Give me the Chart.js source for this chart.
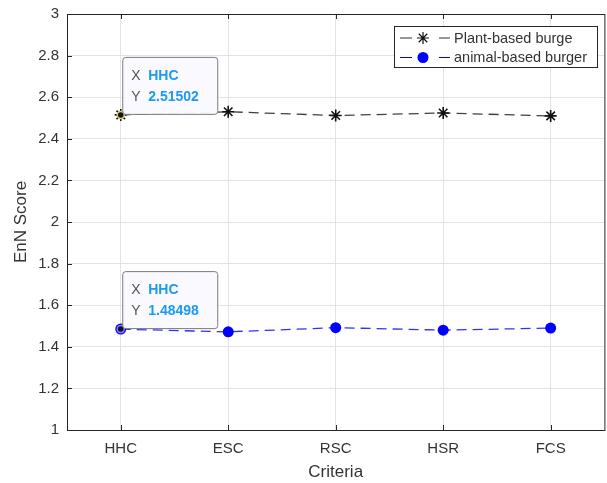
<!DOCTYPE html>
<html>
<head>
<meta charset="utf-8">
<script src="https://cdn.jsdelivr.net/npm/chart.js@4.4.0/dist/chart.umd.min.js"></script>
<style>
  html, body { margin: 0; padding: 0; background: #fff; overflow: hidden; }
  #wrap { width: 612px; height: 483px; overflow: hidden; }
  #chart { display: block; margin-top: -3px; }
</style>
</head>
<body>
<div id="wrap"><canvas id="chart" width="612" height="486"></canvas></div>
<script>
// Data
const criteria = ['HHC', 'ESC', 'RSC', 'HSR', 'FCS'];
const plantBased = [2.51502, 2.53, 2.512, 2.524, 2.51];
const animalBased = [1.48498, 1.472, 1.492, 1.48, 1.49];
const seriesNames = ['Plant-based burge', 'animal-based burger'];
const yTicks = [1, 1.2, 1.4, 1.6, 1.8, 2, 2.2, 2.4, 2.6, 2.8, 3];

const FONT = '"Liberation Sans", Arial, sans-serif';
const AXIS = '#262626';
const LABEL = '#333333';
const SHIFT = 3; // canvas is moved up by this much

// MATLAB style frame, inner ticks, legend box and the two datatips
const decorPlugin = {
  id: 'decor',
  afterDatasetsDraw(chart) {
    const { ctx, chartArea: a, scales: { x, y } } = chart;
    ctx.save();

    // frame
    ctx.strokeStyle = AXIS;
    ctx.lineWidth = 1;
    ctx.strokeRect(a.left + 0.5, a.top + 0.5, a.right - a.left, a.bottom - a.top);

    // inward ticks
    ctx.beginPath();
    criteria.forEach((c, i) => {
      const px = Math.round(x.getPixelForValue(i)) + 0.5;
      ctx.moveTo(px, a.bottom); ctx.lineTo(px, a.bottom - 5);
      ctx.moveTo(px, a.top); ctx.lineTo(px, a.top + 5);
    });
    yTicks.forEach(v => {
      const py = Math.round(y.getPixelForValue(v)) + 0.5;
      ctx.moveTo(a.left, py); ctx.lineTo(a.left + 5, py);
    });
    ctx.stroke();

    // legend
    const lx = 394, ly = 26 + SHIFT, lw = 203, lh = 41;
    ctx.fillStyle = '#fff';
    ctx.fillRect(lx, ly, lw, lh);
    ctx.strokeStyle = AXIS;
    ctx.strokeRect(lx + 0.5, ly + 0.5, lw, lh);
    const rows = [
      { color: '#333', name: seriesNames[0], marker: 'star' },
      { color: '#0000ff', name: seriesNames[1], marker: 'circle' }
    ];
    rows.forEach((r, i) => {
      const cy = ly + 12 + i * 19.5;
      ctx.strokeStyle = r.color;
      ctx.lineWidth = 1.2;
      ctx.beginPath();
      ctx.moveTo(lx + 6, cy); ctx.lineTo(lx + 18, cy);
      ctx.moveTo(lx + 45, cy); ctx.lineTo(lx + 56, cy);
      ctx.stroke();
      if (r.marker === 'star') {
        ctx.strokeStyle = '#111';
        Chart.helpers.drawPoint(ctx, { pointStyle: 'star', radius: 6, borderWidth: 1.5 }, lx + 29, cy);
      } else {
        ctx.fillStyle = r.color;
        ctx.beginPath(); ctx.arc(lx + 29, cy, 5.5, 0, Math.PI * 2); ctx.fill();
      }
      ctx.fillStyle = LABEL;
      ctx.font = '14.5px ' + FONT;
      ctx.textBaseline = 'middle';
      ctx.fillText(r.name, lx + 60, cy + 0.5);
    });

    // datatips at HHC
    const tips = [
      { val: plantBased[0], ring: '#d8d070' },
      { val: animalBased[0], ring: '#8080ff' }
    ];
    tips.forEach(t => {
      const px = x.getPixelForValue(0);
      const py = y.getPixelForValue(t.val);
      // highlighted point
      ctx.fillStyle = '#111';
      ctx.strokeStyle = t.ring;
      ctx.lineWidth = 1.5;
      ctx.beginPath(); ctx.arc(px, py, 3.5, 0, Math.PI * 2); ctx.fill(); ctx.stroke();

      const bx = px + 1.5, by = py - 58, bw = 95, bh = 57;
      ctx.fillStyle = 'rgba(249,249,255,0.97)';
      ctx.strokeStyle = '#7a7a7a';
      ctx.lineWidth = 1;
      ctx.beginPath();
      ctx.roundRect(bx + 0.5, by + 0.5, bw, bh, 3);
      ctx.fill(); ctx.stroke();

      ctx.textBaseline = 'middle';
      const lines = [['X', criteria[0]], ['Y', t.val.toFixed(5)]];
      lines.forEach((l, i) => {
        const ty = by + 19 + i * 21;
        ctx.font = '14px ' + FONT;
        ctx.fillStyle = '#555';
        ctx.fillText(l[0], bx + 9, ty);
        ctx.font = 'bold 14px ' + FONT;
        ctx.fillStyle = '#1a9bf0';
        ctx.fillText(l[1], bx + 26, ty);
      });
    });
    ctx.restore();
  }
};

new Chart(document.getElementById('chart'), {
  type: 'line',
  data: {
    labels: criteria,
    datasets: [
      {
        label: seriesNames[0],
        data: plantBased,
        borderColor: '#404040',
        backgroundColor: '#111111',
        borderWidth: 1.3,
        borderDash: [10, 6],
        pointStyle: 'star',
        pointRadius: 6,
        pointBorderWidth: 1.6,
        pointBorderColor: '#111',
        tension: 0,
        fill: false
      },
      {
        label: seriesNames[1],
        data: animalBased,
        borderColor: '#3030ff',
        backgroundColor: '#0000ff',
        borderWidth: 1.3,
        borderDash: [10, 6],
        pointStyle: 'circle',
        pointRadius: 5.5,
        pointBorderWidth: 0,
        tension: 0,
        fill: false
      }
    ]
  },
  options: {
    responsive: false,
    animation: false,
    layout: { padding: { top: 9, right: 1, left: 0, bottom: 0 } },
    plugins: {
      legend: { display: false },
      tooltip: { enabled: false }
    },
    scales: {
      x: {
        type: 'category',
        offset: true,
        grid: { color: '#e3e3e3', offset: false, drawTicks: false, drawOnChartArea: true },
        border: { display: false },
        ticks: { color: LABEL, font: { family: FONT, size: 15 }, padding: 10, maxRotation: 0 },
        title: { display: true, text: 'Criteria', color: LABEL, font: { family: FONT, size: 17 }, padding: { top: 4, bottom: 0 } },
        afterFit(scale) { scale.height = 53; }
      },
      y: {
        min: 1,
        max: 3,
        afterBuildTicks(scale) { scale.ticks = yTicks.map(v => ({ value: v })); },
        grid: { color: '#e3e3e3', drawTicks: false },
        border: { display: false },
        ticks: { color: LABEL, font: { family: FONT, size: 15 }, padding: 8, callback: v => String(Math.round(v * 10) / 10) },
        title: { display: true, text: 'EnN Score', color: LABEL, font: { family: FONT, size: 17 }, padding: { top: 11, bottom: 0 } },
        afterFit(scale) { scale.width = 67; }
      }
    }
  },
  plugins: [decorPlugin]
});
</script>
</body>
</html>
